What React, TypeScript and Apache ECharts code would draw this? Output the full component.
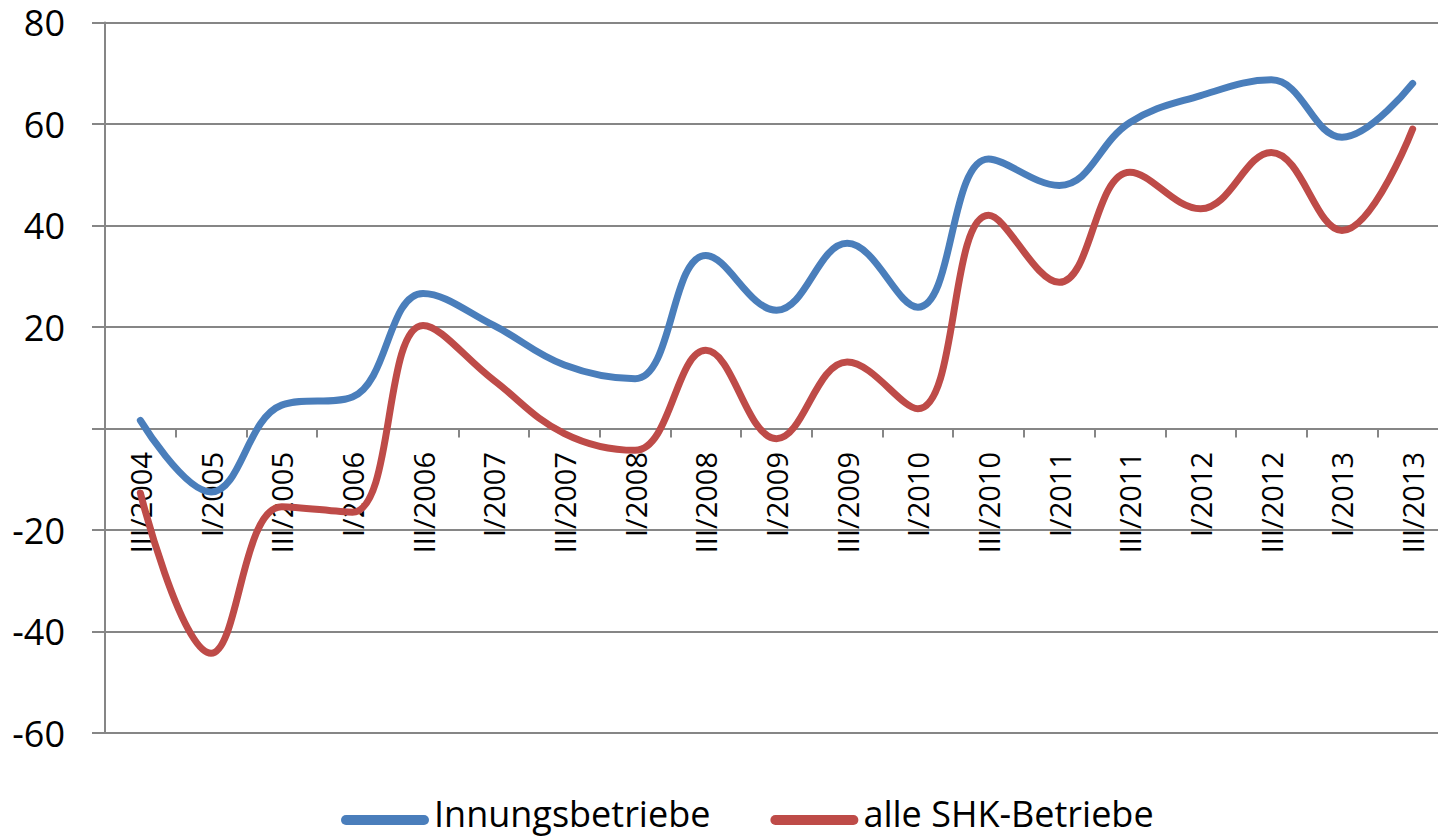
import React, { useEffect, useRef } from "react";
import * as echarts from "echarts";

const categories = [
  "III/2004", "I/2005", "III/2005", "I/2006", "III/2006", "I/2007", "III/2007",
  "I/2008", "III/2008", "I/2009", "III/2009", "I/2010", "III/2010", "I/2011",
  "III/2011", "I/2012", "III/2012", "I/2013", "III/2013",
];
const innung = [1.6, -12.5, 4.6, 6.2, 26.6, 20.3, 12.5, 9.8, 34.1, 23.3, 36.5, 23.9, 53.1, 47.9, 60.3, 65.6, 68.7, 57.4, 68];
const alle = [-12.7, -44.3, -15.4, -16.5, 20.3, 9.5, -1, -4.3, 15.4, -2, 13.1, 3.9, 42, 28.8, 50.5, 43.3, 54.4, 39, 59];
const seriesNames = ["Innungsbetriebe", "alle SHK-Betriebe"];
const yMin = -60;
const yMax = 80;
const yStep = 20;

const FONT = "'Open Sans', sans-serif";
const GRID = "#868686";
const PILL = "path://M5,0 L83,0 A5,5 0 0 1 83,10 L5,10 A5,5 0 0 1 5,0 Z";

export default function App() {
  const ref = useRef<HTMLDivElement>(null);
  useEffect(() => {
    if (!ref.current) return;
    const chart = echarts.init(ref.current, null, { renderer: "svg" });
    chart.setOption({
      animation: false,
      backgroundColor: "#ffffff",
      textStyle: { fontFamily: FONT },
      grid: { left: 105, top: 22.5, bottom: 104, right: -10, containLabel: false, outerBoundsMode: "none" },
      legend: {
        data: seriesNames.map((n) => ({ name: n, icon: PILL })),
        left: 336,
        top: 790,
        itemWidth: 88,
        itemHeight: 10,
        itemGap: 60,
        formatter: "{t|{name}}",
        textStyle: {
          color: "#000",
          fontFamily: FONT,
          rich: {
            t: { fontSize: 36, lineHeight: 36, padding: [0, 0, 14, 0], color: "#000", fontFamily: FONT },
          },
        },
      },
      xAxis: {
        type: "category",
        data: categories,
        boundaryGap: true,
        axisLine: { show: true, onZero: true, lineStyle: { color: GRID, width: 2 } },
        axisTick: { show: true, length: 9, inside: false, lineStyle: { color: GRID, width: 2 } },
        axisLabel: { interval: 0, rotate: 90, margin: -281, fontSize: 29, color: "#000", fontFamily: FONT },
        splitLine: { show: false },
      },
      yAxis: {
        type: "value",
        min: yMin,
        max: yMax,
        interval: yStep,
        axisLine: { show: true, lineStyle: { color: GRID, width: 2 } },
        axisTick: { show: true, length: 13, lineStyle: { color: GRID, width: 2 } },
        axisLabel: {
          margin: 40,
          fontSize: 36,
          lineHeight: 30,
          color: "#000",
          fontFamily: FONT,
          formatter: (v: number) => (v === 0 ? "" : String(v)),
        },
        splitLine: { show: true, lineStyle: { color: GRID, width: 2 } },
      },
      series: [
        {
          name: seriesNames[0],
          type: "line",
          data: innung,
          smooth: 0.4,
          symbol: "none",
          color: "#4A7EBB",
          itemStyle: { color: "#4A7EBB" },
          lineStyle: { width: 7, color: "#4A7EBB", cap: "round", join: "round" },
        },
        {
          name: seriesNames[1],
          type: "line",
          data: alle,
          smooth: 0.4,
          symbol: "none",
          color: "#BE4B48",
          itemStyle: { color: "#BE4B48" },
          lineStyle: { width: 7, color: "#BE4B48", cap: "round", join: "round" },
        },
      ],
    });
    return () => chart.dispose();
  }, []);
  return (
    <div
      ref={ref}
      style={{ position: "fixed", left: 0, top: 0, width: 1438, height: 837, background: "#fff" }}
    />
  );
}
